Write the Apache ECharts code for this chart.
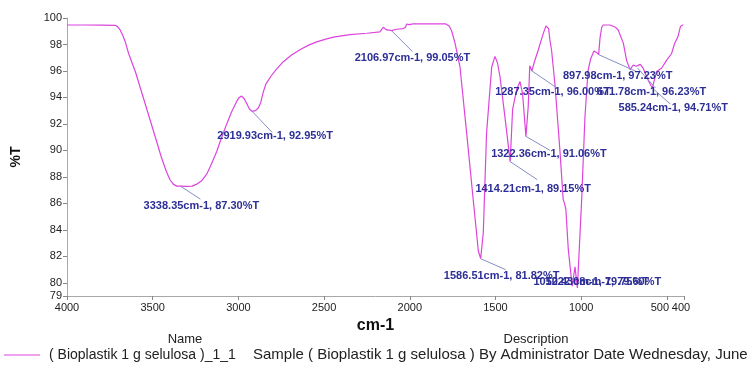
<!DOCTYPE html>
<html>
<head>
<meta charset="utf-8">
<script src="https://cdn.jsdelivr.net/npm/echarts@6/dist/echarts.min.js"></script>
<style>
html,body{margin:0;padding:0;background:#fff;}
#chart{width:755px;height:368px;}
</style>
</head>
<body>
<div id="chart"></div>
<script>
// ---- data ----
const wavenumbers = [4000, 3900, 3800, 3720, 3705, 3690, 3675, 3660, 3640, 3600, 3560, 3520, 3480, 3450, 3420, 3400, 3380, 3360, 3338.35, 3300, 3270, 3243, 3215, 3185, 3160, 3127, 3100, 3068, 3040, 3010, 2995, 2981, 2966, 2950, 2935, 2919.93, 2900, 2884, 2870, 2855, 2840, 2810, 2780, 2738, 2690, 2641, 2590, 2543, 2490, 2446, 2349, 2250, 2174, 2155, 2135, 2120, 2106.97, 2077, 2038, 2025, 2018, 2005, 1995, 1980, 1920, 1850, 1790, 1770, 1755, 1736, 1707, 1668, 1630, 1600, 1586.51, 1571, 1552, 1522, 1503, 1488, 1474, 1445, 1414.21, 1400, 1376, 1357, 1342, 1322.36, 1309, 1300, 1287.35, 1275, 1250, 1221, 1205, 1198, 1190, 1182, 1173, 1153, 1124, 1105, 1095, 1089, 1075, 1052.43, 1036, 1022, 997, 978, 960, 945, 925, 910, 897.98, 890, 880, 871, 832, 800, 784, 754, 735, 715, 696, 680, 671.78, 655, 638, 609, 585.24, 560, 531, 502, 473, 454, 435, 421, 405];
const transmittance = [99.47, 99.47, 99.46, 99.45, 99.35, 99.1, 98.7, 98.2, 97.3, 95.9, 94.2, 92.5, 90.8, 89.5, 88.4, 87.8, 87.45, 87.3, 87.30, 87.28, 87.3, 87.45, 87.7, 88.2, 88.9, 89.9, 90.9, 92.0, 92.9, 93.7, 94.0, 94.1, 93.9, 93.5, 93.1, 92.95, 93.0, 93.2, 93.6, 94.4, 95.0, 95.6, 96.1, 96.7, 97.2, 97.6, 97.95, 98.2, 98.4, 98.55, 98.75, 98.85, 98.95, 99.3, 99.1, 99.08, 99.05, 99.15, 99.2, 99.3, 99.55, 99.5, 99.35, 99.55, 99.55, 99.55, 99.55, 99.4, 99.0, 98.1, 96.3, 91.3, 86.3, 82.4, 81.82, 83.8, 91.3, 96.3, 97.1, 96.6, 95.6, 92.55, 89.15, 93.1, 94.6, 95.2, 94.3, 91.06, 93.3, 96.4, 96.0, 96.6, 97.6, 98.84, 99.4, 99.5, 99.2, 98.3, 97.6, 95.0, 90.0, 86.3, 85.9, 85.5, 82.5, 79.75, 81.2, 79.6, 86.3, 92.5, 96.0, 96.9, 97.5, 97.4, 97.23, 98.5, 99.3, 99.47, 99.47, 99.3, 99.1, 98.1, 96.8, 96.1, 96.45, 96.35, 96.23, 96.5, 96.2, 95.3, 94.71, 95.95, 96.2, 96.8, 97.3, 98.1, 98.6, 99.35, 99.5];

const peakWn = [3338.35, 2919.93, 2106.97, 1586.51, 1414.21, 1322.36, 1287.35, 897.98, 671.78, 585.24, 1052.43, 1022.08];
const peakT  = [87.30, 92.95, 99.05, 81.82, 89.15, 91.06, 96.00, 97.23, 96.23, 94.71, 79.75, 79.60];
const peakText = ["3338.35cm-1, 87.30%T", "2919.93cm-1, 92.95%T", "2106.97cm-1, 99.05%T", "1586.51cm-1, 81.82%T", "1414.21cm-1, 89.15%T", "1322.36cm-1, 91.06%T", "1287.35cm-1, 96.00%T", "897.98cm-1, 97.23%T", "671.78cm-1, 96.23%T", "585.24cm-1, 94.71%T", "1052.43cm-1, 79.75%T", "1022.08cm-1, 79.60%T"];

const xTicks = [4000, 3500, 3000, 2500, 2000, 1500, 1000, 500, 400];
const yTicks = [79, 80, 82, 84, 86, 88, 90, 92, 94, 96, 98, 100];

const seriesName = "( Bioplastik 1 g selulosa )_1_1";
const seriesDesc = "Sample ( Bioplastik 1 g selulosa ) By Administrator Date Wednesday, June";

// ---- label placement (offsets from the peak pixel: leader end dx,dy ; text centre dx,dy) ----
const labelPlacement = [
  [20, 13, 21, 20], [20, 21, 23, 25], [21, 21, 21, 27], [25, 11, 21, 17],
  [27, 18, 23, 27], [24, 14, 23, 18], [25, 17, 21, 21], [38, 17, 19, 21],
  [18, 20, 14, 24], [18, 16, 21, 20], [0, 0, 19, -4], [0, 0, 26, -6]
];

const chart = echarts.init(document.getElementById('chart'), null, {renderer: 'canvas'});
const FONT = '"Liberation Sans", Arial, sans-serif';

const option = {
  animation: false,
  backgroundColor: '#ffffff',
  grid: {left: 67, right: 71, top: 18, bottom: 72},
  xAxis: {
    type: 'value', inverse: true, min: 400, max: 4000,
    name: 'cm-1', nameLocation: 'middle', nameGap: 20,
    nameTextStyle: {fontFamily: FONT, fontSize: 16, fontWeight: 'bold', color: '#111'},
    axisLine: {show: true, lineStyle: {color: '#a8a8a8'}},
    axisTick: {show: true, length: 4, customValues: xTicks, lineStyle: {color: '#888'}},
    axisLabel: {
      customValues: xTicks, hideOverlap: false, margin: 6,
      fontFamily: FONT, fontSize: 11, color: '#222',
      formatter: v => v === 500 ? '{l|500}' : (v === 400 ? '{r|400}' : String(v)),
      rich: {l: {fontFamily: FONT, fontSize: 11, color: '#222', padding: [0, 14, 0, 0]},
             r: {fontFamily: FONT, fontSize: 11, color: '#222', padding: [0, 6, 0, 0]}}
    },
    splitLine: {show: false}
  },
  yAxis: {
    type: 'value', min: 79, max: 100,
    name: '%T', nameLocation: 'middle', nameGap: 44, nameRotate: 90,
    nameTextStyle: {fontFamily: FONT, fontSize: 14, fontWeight: 'bold', color: '#111'},
    axisLine: {show: true, lineStyle: {color: '#a8a8a8'}},
    axisTick: {show: true, length: 4, customValues: yTicks, lineStyle: {color: '#888'}},
    axisLabel: {customValues: yTicks, hideOverlap: false, margin: 5, fontFamily: FONT, fontSize: 11, color: '#222'},
    splitLine: {show: false}
  },
  series: [{
    type: 'line', name: seriesName,
    data: wavenumbers.map((w, i) => [w, transmittance[i]]),
    showSymbol: false, symbol: 'none', smooth: false,
    lineStyle: {color: '#dd44dd', width: 1.2},
    z: 2
  }]
};
chart.setOption(option);

// annotations and footer, positioned through the chart's own coordinate system
const graphics = [];
peakWn.forEach((w, i) => {
  const p = chart.convertToPixel({gridIndex: 0}, [w, peakT[i]]);
  const pl = labelPlacement[i];
  if (pl[0] !== 0 || pl[1] !== 0) {
    graphics.push({type: 'line', z: 50, silent: true,
      shape: {x1: p[0], y1: p[1], x2: p[0] + pl[0], y2: p[1] + pl[1]},
      style: {stroke: '#8590c4', lineWidth: 1}});
  }
  graphics.push({type: 'text', z: 60, silent: true,
    x: p[0] + pl[2], y: p[1] + pl[3],
    style: {text: peakText[i], font: 'bold 11px ' + FONT, fill: '#2d2f96', align: 'center', verticalAlign: 'middle'}});
});
// footer legend table
graphics.push({type: 'text', silent: true, x: 185, y: 339,
  style: {text: 'Name', font: '13px ' + FONT, fill: '#222', align: 'center', verticalAlign: 'middle'}});
graphics.push({type: 'text', silent: true, x: 536, y: 339,
  style: {text: 'Description', font: '13px ' + FONT, fill: '#222', align: 'center', verticalAlign: 'middle'}});
graphics.push({type: 'line', silent: true, shape: {x1: 4, y1: 355, x2: 40, y2: 355},
  style: {stroke: '#dd44dd', lineWidth: 1.2}});
graphics.push({type: 'text', silent: true, x: 49, y: 355,
  style: {text: seriesName, font: '14px ' + FONT, fill: '#222', align: 'left', verticalAlign: 'middle'}});
graphics.push({type: 'text', silent: true, x: 253, y: 355,
  style: {text: seriesDesc, font: '15px ' + FONT, fill: '#222', align: 'left', verticalAlign: 'middle'}});

chart.setOption({graphic: graphics});
</script>
</body>
</html>
